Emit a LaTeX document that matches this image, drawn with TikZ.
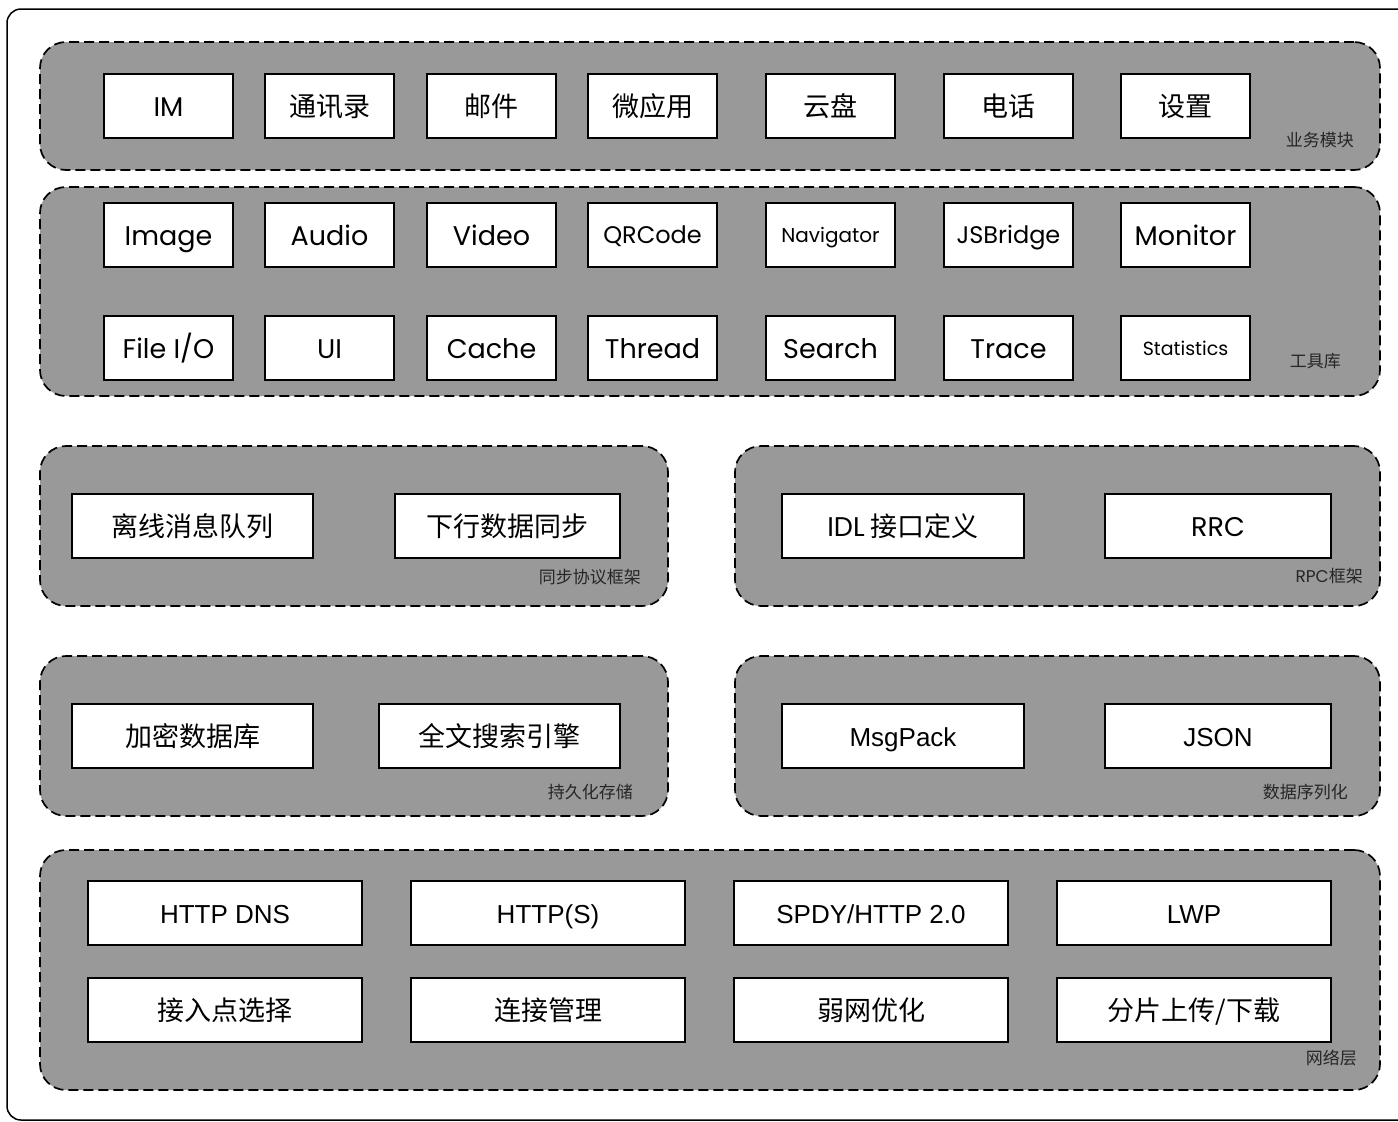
\documentclass[tikz,border=0pt]{standalone}
\usepackage{fontspec}
\setmainfont{Noto Sans CJK SC}
\newfontfamily\gothic{Poppins}
\newfontfamily\helv{Liberation Sans}
\usetikzlibrary{positioning}

\begin{document}
\begin{tikzpicture}[x=1pt, y=-1pt, font=\fontsize{27}{30}\selectfont,
  layer/.style={draw, dash pattern=on 10pt off 5pt, line width=1.7pt, fill=black!40,
    rounded corners=26pt, inner sep=0pt},
  mod/.style={draw, fill=white, line width=1.5pt, minimum height=64pt, inner sep=0pt,
    text height=23pt, text depth=3pt},
  cell/.style={mod, minimum width=129pt, font=\gothic\fontsize{27}{30}\selectfont},
  small/.style={text height=17pt, text depth=3pt},
  tag/.style={anchor=east, inner sep=0pt, font=\fontsize{17}{19}\selectfont, text=black!85}]
\useasboundingbox (0,0) rectangle (1398,1122);
\draw[line width=1.5pt, rounded corners=14pt] (7,9) rectangle (1430,1120);

% layers
\node[layer, minimum width=1340pt, minimum height=128pt] (biz) at (710,106) {};
\node[layer, minimum width=1340pt, minimum height=209pt] (tools) at (710,291.5) {};
\node[layer, minimum width=628pt, minimum height=160pt] (sync) at (354,526) {};
\node[layer, minimum width=645pt, minimum height=160pt] (rpc) at (1057.5,526) {};
\node[layer, minimum width=628pt, minimum height=160pt] (store) at (354,736) {};
\node[layer, minimum width=645pt, minimum height=160pt] (serial) at (1057.5,736) {};
\node[layer, minimum width=1340pt, minimum height=240pt] (net) at (710,970) {};

% business modules
\node[cell] (im) at (168.5,106) {IM};
\node[cell, font=\fontsize{27}{30}\selectfont] (contacts) at (329.5,106) {通讯录};
\node[cell, font=\fontsize{27}{30}\selectfont] (mail) at (491.5,106) {邮件};
\node[cell, font=\fontsize{27}{30}\selectfont] (microapp) at (652.5,106) {微应用};
\node[cell, font=\fontsize{27}{30}\selectfont] (disk) at (830.5,106) {云盘};
\node[cell, font=\fontsize{27}{30}\selectfont] (phone) at (1008.5,106) {电话};
\node[cell, font=\fontsize{27}{30}\selectfont] (settings) at (1185.5,106) {设置};
\node[tag] at (1354,140) {业务模块};

% tool library
\node[cell] (image) at (168.5,235) {Image};
\node[cell] (audio) at (329.5,235) {Audio};
\node[cell] (video) at (491.5,235) {Video};
\node[cell, text height=20pt, font=\gothic\fontsize{24}{26}\selectfont] (qrcode) at (652.5,235) {QRCode};
\node[cell, small, font=\gothic\fontsize{20}{22}\selectfont] (navigator) at (830.5,235) {Navigator};
\node[cell, text height=20pt, font=\gothic\fontsize{24}{26}\selectfont] (jsbridge) at (1008.5,235) {JSBridge};
\node[cell] (monitor) at (1185.5,235) {Monitor};
\node[cell] (fileio) at (168.5,348) {File I/O};
\node[cell] (ui) at (329.5,348) {UI};
\node[cell] (cache) at (491.5,348) {Cache};
\node[cell] (thread) at (652.5,348) {Thread};
\node[cell] (search) at (830.5,348) {Search};
\node[cell] (trace) at (1008.5,348) {Trace};
\node[cell, small, font=\gothic\fontsize{19}{21}\selectfont] (statistics) at (1185.5,348) {Statistics};
\node[tag] at (1341,361) {工具库};

% sync / rpc
\node[mod, minimum width=241pt] (offline) at (192.5,526) {离线消息队列};
\node[mod, minimum width=225pt] (downsync) at (507.5,526) {下行数据同步};
\node[tag] at (641,577) {同步协议框架};
\node[mod, minimum width=242pt] (idl) at (903,526) {{\gothic IDL} 接口定义};
\node[mod, minimum width=226pt, font=\gothic\fontsize{27}{30}\selectfont] (rrc) at (1218,526) {RRC};
\node[tag] at (1363,576) {{\gothic RPC}框架};

% storage / serialization
\node[mod, minimum width=241pt] (cryptodb) at (192.5,736) {加密数据库};
\node[mod, minimum width=241pt] (fulltext) at (499.5,736) {全文搜索引擎};
\node[tag] at (633,792) {持久化存储};
\node[mod, minimum width=242pt, font=\helv\fontsize{26}{30}\selectfont] (msgpack) at (903,736) {MsgPack};
\node[mod, minimum width=226pt, font=\helv\fontsize{26}{30}\selectfont] (json) at (1218,736) {JSON};
\node[tag] at (1348,792) {数据序列化};

% network
\node[mod, minimum width=274pt, font=\helv\fontsize{26}{30}\selectfont] (httpdns) at (225,913) {HTTP DNS};
\node[mod, minimum width=274pt, font=\helv\fontsize{26}{30}\selectfont] (https) at (548,913) {HTTP(S)};
\node[mod, minimum width=274pt, font=\helv\fontsize{26}{30}\selectfont] (spdy) at (871,913) {SPDY/HTTP 2.0};
\node[mod, minimum width=274pt, font=\helv\fontsize{26}{30}\selectfont] (lwp) at (1194,913) {LWP};
\node[mod, minimum width=274pt] (access) at (225,1010) {接入点选择};
\node[mod, minimum width=274pt] (connmgr) at (548,1010) {连接管理};
\node[mod, minimum width=274pt] (weaknet) at (871,1010) {弱网优化};
\node[mod, minimum width=274pt] (chunk) at (1194,1010) {分片上传/下载};
\node[tag] at (1357,1058) {网络层};
\end{tikzpicture}
\end{document}
